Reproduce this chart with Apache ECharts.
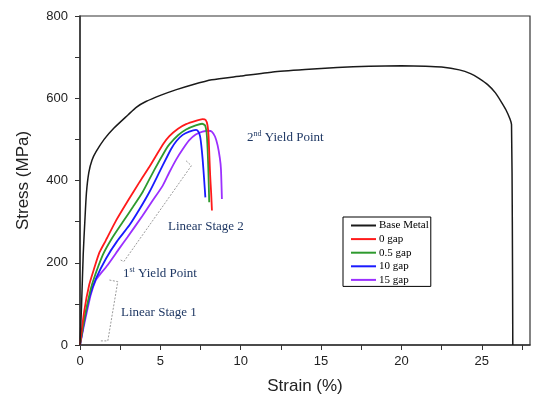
<!DOCTYPE html>
<html>
<head>
<meta charset="utf-8">
<script src="https://cdn.jsdelivr.net/npm/echarts@6/dist/echarts.min.js"></script>
<style>
  html, body { margin: 0; padding: 0; background: #fff; }
</style>
</head>
<body>
<div id="chart" style="width: 534px;height:400px;"></div>
<script>
// strain (%), stress (MPa)
const baseMetal = [[0,0],[0.1,100],[0.2,220],[0.3,300],[0.4,370],[0.55,420],[0.75,450],[1.0,470],[1.5,500],[2.1,527],[3.0,560],[3.5,578],[4.1,592],[5,607],[6,621],[7,633],[8.2,645],[10,654],[12,664],[14,670],[16,675],[18,678],[20,679],[21.5,678],[22.5,676],[23.6,669],[24.3,660],[24.8,649],[25.4,632],[25.85,613],[26.2,592],[26.5,572],[26.75,550],[26.85,536],[26.9,300],[26.93,0]];
const gap0 = [[0,0],[0.26,82],[0.57,146],[0.88,186],[1.21,225],[1.6,254],[2.25,303],[3.0,352],[3.7,396],[4.3,432],[4.73,460],[5.2,490],[5.56,508],[6.1,526],[6.6,537],[7.2,545],[7.63,549],[7.82,547],[7.93,535],[8.0,508],[8.05,460],[8.1,412],[8.16,370],[8.21,327]];
const gap05 = [[0,0],[0.3,70],[0.6,125],[0.8,154],[1.42,219],[2.0,260],[2.66,299],[3.3,336],[3.9,372],[4.6,424],[5.35,476],[5.56,488],[6.1,510],[6.6,524],[7.2,534],[7.6,538],[7.78,534],[7.88,515],[7.94,476],[7.99,420],[8.04,347]];
const gap10 = [[0,0],[0.3,65],[0.6,118],[1.0,162],[1.63,211],[2.3,252],[3.07,291],[3.7,330],[4.32,372],[5.0,425],[5.66,476],[6.0,496],[6.39,511],[6.8,519],[7.22,523],[7.36,519],[7.47,508],[7.55,485],[7.63,452],[7.72,405],[7.8,359]];
const gap15 = [[0,0],[0.26,50],[0.67,122],[0.98,158],[1.21,170],[1.71,194],[2.45,235],[2.95,262],[3.9,315],[4.5,350],[5.14,387],[5.56,420],[6.0,452],[6.39,476],[6.8,498],[7.2,512],[7.63,519],[8.0,521],[8.2,519],[8.4,507],[8.56,486],[8.7,455],[8.77,428],[8.83,355]];

// dotted brackets marking the two linear stages
const bracket1 = [[1.83,158],[2.35,154],[1.73,10],[1.21,10]];
const bracket2 = [[6.6,448],[6.93,436],[2.73,203],[2.45,208]];

const names = ['Base Metal', '0 gap', '0.5 gap', '10 gap', '15 gap'];
const colors = ['#1a1a1a', '#ff1a1a', '#2e9a2e', '#1a1aff', '#9b30ff'];
const curves = [baseMetal, gap0, gap05, gap10, gap15];

var myChart = echarts.init(document.getElementById('chart'));

let series = curves.map((data, i) => {
  return {
    name: names[i],
    type: 'line',
    data,
    symbol: 'none',
    smooth: 0.2,
    lineStyle: { color: colors[i], width: i == 0 ? 1.5 : 1.8 },
    itemStyle: { color: colors[i] },
    z: 5 - i,
  }
});
[bracket1, bracket2].forEach(data => {
  series.push({
    type: 'line',
    data,
    symbol: 'none',
    silent: true,
    lineStyle: { color: '#9a9a9a', width: 1, type: [2, 1.5] },
  })
});

const noteFont = 'Liberation Serif';
const noteColor = '#1f3864';
function note(x, y, text, rich) {
  return {
    type: 'text',
    left: x,
    top: y,
    style: {
      text,
      fontFamily: noteFont,
      fontSize: 13,
      fill: noteColor,
      rich,
    }
  }
}
const sup = {
  b: { fontFamily: noteFont, fontSize: 13, color: noteColor, lineHeight: 15 },
  s: { fontFamily: noteFont, fontSize: 8, color: noteColor, verticalAlign: 'top', lineHeight: 15 },
};

const option = {
  animation: false,
  grid: {
    left: 80, right: 4, top: 16, bottom: 53,
    show: true, borderColor: '#333', borderWidth: 1.2,
  },
  legend: {
    data: names,
    orient: 'vertical',
    left: 343, top: 217,
    padding: [3, 2, 1, 7],
    itemWidth: 25, itemHeight: 10, itemGap: 2.6,
    itemStyle: { opacity: 0 },
    borderColor: '#000', borderWidth: 1,
    textStyle: { fontFamily: 'Liberation Serif', fontSize: 11, color: '#000', padding: [0, 0, 0, -2] },
  },
  xAxis: {
    type: 'value',
    min: 0, max: 28, interval: 2.5,
    name: 'Strain (%)',
    nameLocation: 'middle', nameGap: 33,
    nameTextStyle: { fontFamily: 'Liberation Sans', fontSize: 17, color: '#222' },
    axisLine: { show: true, onZero: false, lineStyle: { color: '#333', width: 1.5 } },
    axisTick: { show: true, inside: false, length: 5, lineStyle: { color: '#333' } },
    axisLabel: {
      margin: 10, fontFamily: 'Liberation Sans', fontSize: 13, color: '#222',
      showMaxLabel: false,
      formatter: v => (v % 5 == 0 ? String(v) : ''),
    },
    splitLine: { show: false },
  },
  yAxis: {
    type: 'value',
    min: 0, max: 800, interval: 100,
    name: 'Stress (MPa)',
    nameLocation: 'middle', nameGap: 48,
    nameTextStyle: { fontFamily: 'Liberation Sans', fontSize: 17, color: '#222' },
    axisLine: { show: true, onZero: false, lineStyle: { color: '#333', width: 1.5 } },
    axisTick: { show: true, inside: false, length: 5, lineStyle: { color: '#333' } },
    axisLabel: {
      margin: 12, fontFamily: 'Liberation Sans', fontSize: 13, color: '#222',
      formatter: v => (v % 200 == 0 ? String(v) : ''),
    },
    splitLine: { show: false },
  },
  graphic: [
    note(247, 130, '{b|2}{s|nd}{b| Yield Point}', sup),
    note(168, 220, 'Linear Stage 2'),
    note(123, 266, '{b|1}{s|st}{b| Yield Point}', sup),
    note(121, 306, 'Linear Stage 1'),
  ],
  series
};

option && myChart.setOption(option);
</script>
</body>
</html>
